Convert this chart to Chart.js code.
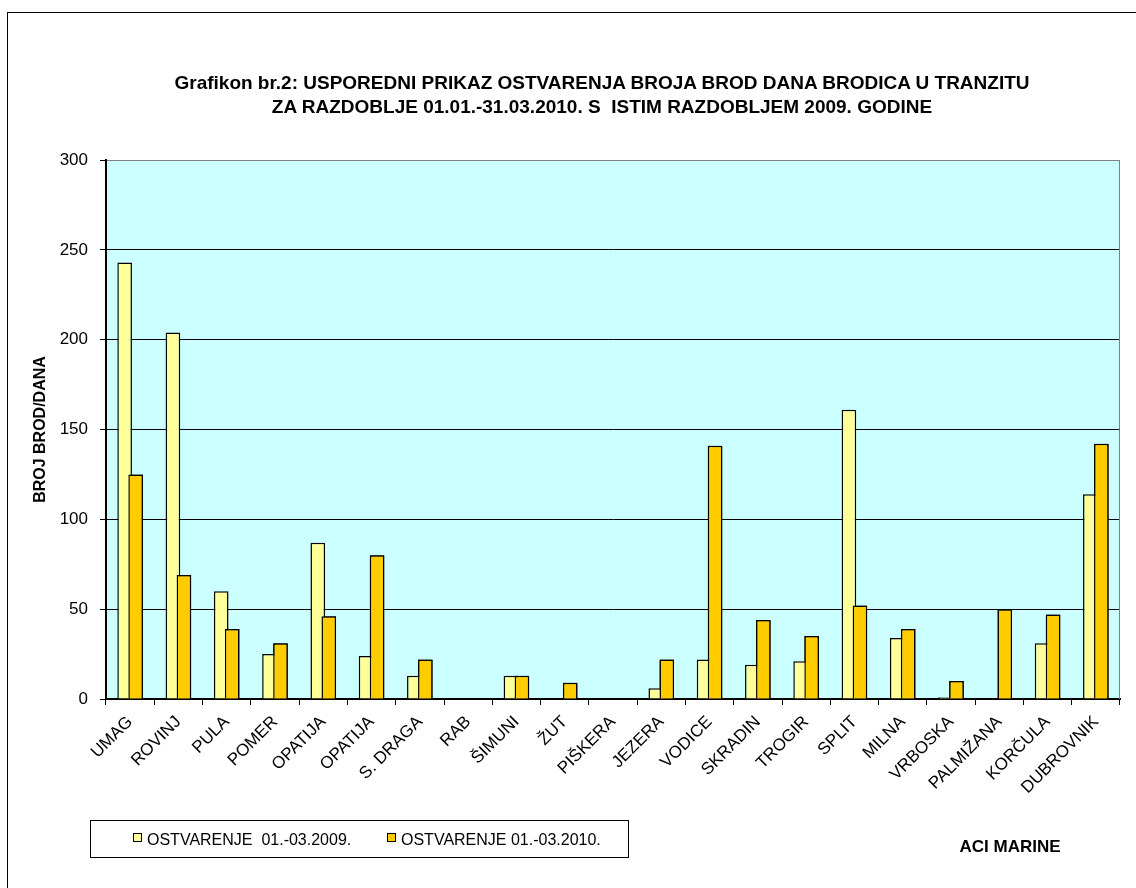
<!DOCTYPE html>
<html>
<head>
<meta charset="utf-8">
<script src="https://cdn.jsdelivr.net/npm/chart.js@4.4.0/dist/chart.umd.min.js"></script>
<style>
  body { margin: 0; background: #fff; overflow: hidden; font-family: "Liberation Sans", Arial, sans-serif; }
  #frame { position: absolute; left: 7px; top: 12px; width: 1200px; height: 1000px; border-top: 1px solid #000; border-left: 1px solid #000; }
  #myChart { position: absolute; left: 0; top: 0; }
  #title { position: absolute; left: 100px; width: 1004px; top: 71px; text-align: center; font-weight: bold; font-size: 19px; line-height: 23.5px; color: #000; }
  #legend { position: absolute; left: 90px; top: 820px; width: 539px; height: 38px; border: 1px solid #000; box-sizing: border-box; }
  .item { position: absolute; top: 0; height: 36px; }
  .box { position: absolute; top: 12px; width: 9px; height: 9px; border: 1px solid #000; box-sizing: border-box; }
  .txt { position: absolute; top: 9px; left: 14px; font-size: 16px; line-height: 20px; white-space: pre; color: #000; }
  #aci { position: absolute; left: 910px; width: 200px; top: 837px; text-align: center; font-weight: bold; font-size: 17px; line-height: 20px; color: #000; }
</style>
</head>
<body>
<div id="frame"></div>
<canvas id="myChart" width="1136" height="888"></canvas>
<div id="title">Grafikon br.2: USPOREDNI PRIKAZ OSTVARENJA BROJA BROD DANA BRODICA U TRANZITU<br>ZA RAZDOBLJE 01.01.-31.03.2010. S&nbsp; ISTIM RAZDOBLJEM 2009. GODINE</div>
<div id="legend"></div>
<div id="aci">ACI MARINE</div>
<script>
const marinas = ['UMAG', 'ROVINJ', 'PULA', 'POMER', 'OPATIJA', 'OPATIJA', 'S. DRAGA', 'RAB', 'ŠIMUNI', 'ŽUT',
  'PIŠKERA', 'JEZERA', 'VODICE', 'SKRADIN', 'TROGIR', 'SPLIT', 'MILNA', 'VRBOSKA', 'PALMIŽANA', 'KORČULA', 'DUBROVNIK'];
const days2009 = [243, 204, 60, 25, 87, 24, 13, 0, 13, 0, 0, 6, 22, 19, 21, 161, 34, 1, 0, 31, 114];
const days2010 = [125, 69, 39, 31, 46, 80, 22, 0, 13, 9, 0, 22, 141, 44, 35, 52, 39, 10, 50, 47, 142];
const seriesLabels = ['OSTVARENJE  01.-03.2009.', 'OSTVARENJE 01.-03.2010.'];
const seriesColors = ['#FFFF99', '#FFCC00'];
const yTicks = [0, 50, 100, 150, 200, 250, 300];

const font = 'Liberation Sans, Arial, sans-serif';

// plot background + grey frame on the right
const plotArea = {
  id: 'plotArea',
  beforeDraw(chart) {
    const { ctx, chartArea: a } = chart;
    ctx.save();
    ctx.fillStyle = '#CCFFFF';
    ctx.fillRect(a.left, a.top, a.right - a.left, a.bottom - a.top);
    ctx.restore();
  },
  beforeDatasetsDraw(chart) {
    const { ctx, chartArea: a } = chart;
    ctx.save();
    ctx.strokeStyle = '#808080';
    ctx.lineWidth = 1;
    ctx.beginPath();
    ctx.moveTo(a.right - 0.5, a.top);
    ctx.lineTo(a.right - 0.5, a.bottom);
    ctx.stroke();
    ctx.restore();
  },
  // 2010 bars sit in front of the 2009 ones
  afterDatasetsDraw(chart) {
    chart.getDatasetMeta(1).controller.draw();
  }
};

const ctx = document.getElementById('myChart').getContext('2d');
const chart = new Chart(ctx, {
  type: 'bar',
  data: {
    labels: marinas,
    datasets: [days2009, days2010].map((data, i) => ({
      label: seriesLabels[i],
      data,
      backgroundColor: seriesColors[i],
      borderColor: '#000',
      borderWidth: 1.5,
      categoryPercentage: 0.456,
      barPercentage: 1.33,
    })),
  },
  options: {
    responsive: false,
    animation: false,
    devicePixelRatio: 1,
    layout: { padding: { top: 160, right: 16, bottom: 0, left: 0 } },
    plugins: { legend: { display: false }, tooltip: { enabled: false } },
    scales: {
      x: {
        afterFit(scale) { scale.height = 189; },
        grid: { display: true, drawOnChartArea: false, offset: true, color: '#000', tickColor: '#000', tickLength: 6 },
        border: { color: '#000', width: 2 },
        ticks: { autoSkip: false, minRotation: 45, maxRotation: 45, padding: 7, color: '#000', font: { family: font, size: 17 } },
      },
      y: {
        min: 0,
        max: 300,
        afterFit(scale) { scale.width = 106; },
        afterBuildTicks(scale) { scale.ticks = yTicks.map(v => ({ value: v })); },
        grid: {
          color: c => (c.tick && c.tick.value === 300 ? '#808080' : '#000'),
          tickColor: '#000',
          tickLength: 6,
          lineWidth: 1,
        },
        border: { color: '#000', width: 2 },
        ticks: { padding: 12, color: '#000', font: { family: font, size: 17 } },
        title: { display: true, text: 'BROJ BROD/DANA', color: '#000', padding: { top: 31, bottom: 0 }, font: { family: font, size: 16, weight: 'bold' } },
      },
    },
  },
  plugins: [plotArea],
});

// legend box below the chart
const legend = document.getElementById('legend');
const itemLeft = [42, 296];
chart.data.datasets.forEach((ds, i) => {
  const item = document.createElement('div');
  item.className = 'item';
  item.style.left = itemLeft[i] + 'px';
  item.innerHTML = '<div class="box" style="background:' + ds.backgroundColor + '"></div><span class="txt"></span>';
  item.querySelector('.txt').textContent = ds.label;
  legend.appendChild(item);
});
</script>
</body>
</html>
